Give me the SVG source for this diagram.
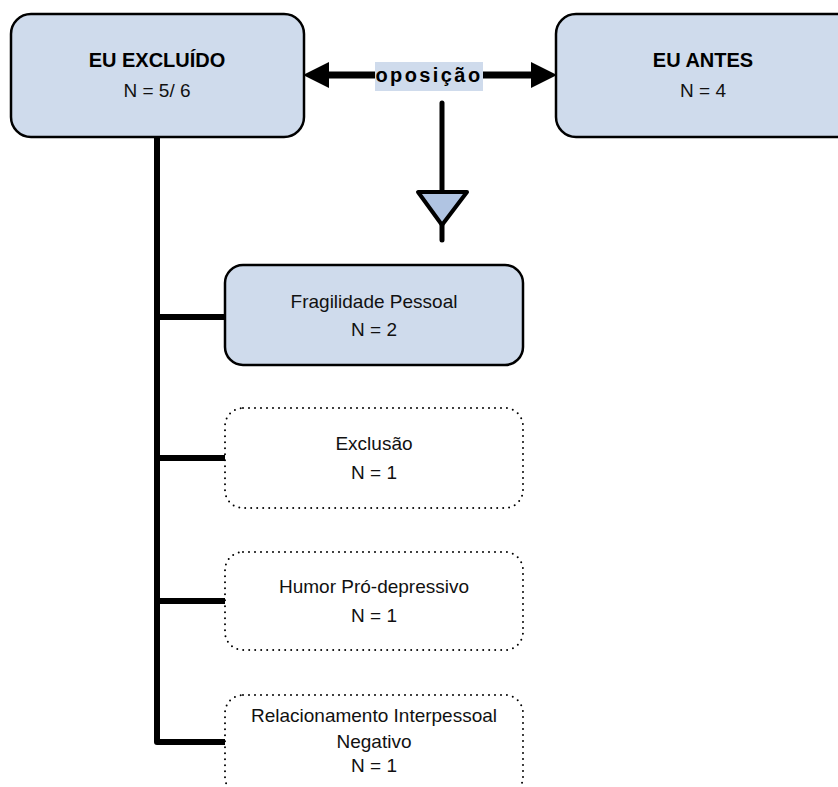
<svg xmlns="http://www.w3.org/2000/svg" width="838" height="787" viewBox="0 0 838 787">
  <style>
    .box { fill: #cfdbec; stroke: #000; stroke-width: 2.5; }
    .dot { fill: #fff; stroke: #000; stroke-width: 2; stroke-dasharray: 0 6; stroke-linecap: round; }
    .t { font-family: "Liberation Sans", Arial, sans-serif; font-size: 19px; fill: #111; text-anchor: middle; }
    .tb { font-family: "Liberation Sans", Arial, sans-serif; font-size: 20px; font-weight: bold; fill: #000; text-anchor: middle; }
    .ln { fill: none; stroke: #000; stroke-linecap: round; stroke-linejoin: round; }
  </style>
  <rect width="838" height="787" fill="#fff"/>

  <!-- connectors -->
  <g id="connectors">
    <path class="ln" stroke-width="6" d="M157 137 V742 H226"/>
    <path class="ln" stroke-width="6" d="M157 317 H226 M157 458 H226 M157 601 H226"/>
    <line class="ln" stroke-width="7" x1="326" y1="75" x2="533" y2="75"/>
    <polygon points="303,75 329,62 329,88" fill="#000"/>
    <polygon points="557,75 531,62 531,88" fill="#000"/>
    <line class="ln" stroke-width="5" x1="442" y1="103" x2="442" y2="192"/>
    <line class="ln" stroke-width="5" x1="442" y1="224" x2="442" y2="240"/>
    <polygon points="418,192 467,192 442,225" fill="#b0c4e2" stroke="#000" stroke-width="4" stroke-linejoin="round"/>
    <g id="label-oposicao">
      <rect x="375" y="62" width="108" height="29" fill="#cfdbec"/>
      <text x="429" y="82" class="tb" letter-spacing="2.4">oposição</text>
    </g>
  </g>

  <g id="eu-excluido">
    <rect class="box" x="11" y="14" width="293" height="123" rx="20"/>
    <text x="157" y="67" class="tb">EU EXCLUÍDO</text>
    <text x="157" y="97" class="t" font-size="21">N = 5/ 6</text>
  </g>

  <g id="eu-antes">
    <rect class="box" x="556" y="14" width="300" height="123" rx="20"/>
    <text x="703" y="67" class="tb">EU ANTES</text>
    <text x="703" y="97" class="t" font-size="21">N = 4</text>
  </g>

  <g id="fragilidade">
    <rect class="box" x="225" y="265" width="298" height="100" rx="18"/>
    <text x="374" y="308" class="t">Fragilidade Pessoal</text>
    <text x="374" y="336" class="t" font-size="20">N = 2</text>
  </g>

  <g id="exclusao">
    <rect class="dot" x="225" y="408" width="298" height="100" rx="18"/>
    <text x="374" y="450" class="t">Exclusão</text>
    <text x="374" y="479" class="t" font-size="20">N = 1</text>
  </g>

  <g id="humor">
    <rect class="dot" x="225" y="552" width="298" height="98" rx="18"/>
    <text x="374" y="593" class="t">Humor Pró-depressivo</text>
    <text x="374" y="622" class="t" font-size="20">N = 1</text>
  </g>

  <g id="relacionamento">
    <rect class="dot" x="225" y="695" width="298" height="100" rx="18"/>
    <text x="374" y="722" class="t">Relacionamento Interpessoal</text>
    <text x="374" y="748" class="t">Negativo</text>
    <text x="374" y="772" class="t" font-size="20">N = 1</text>
  </g>
</svg>
